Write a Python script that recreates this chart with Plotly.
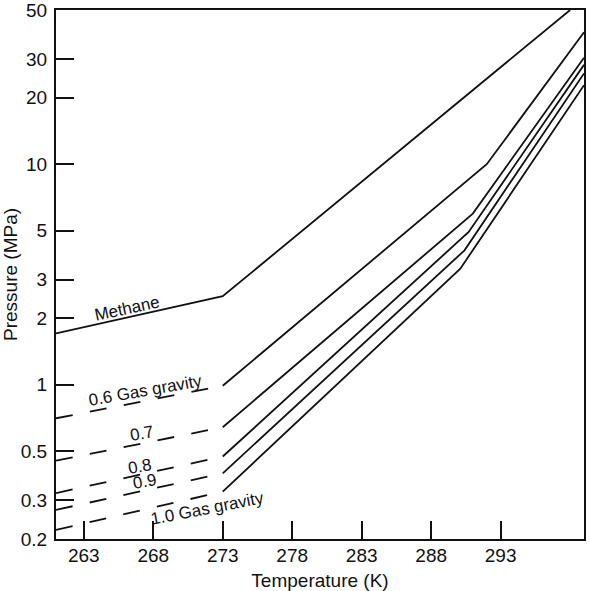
import math
import plotly.graph_objects as go

# ---- data ----
methane_T = [261.0, 273.0, 298.0]
methane_P = [1.71, 2.52, 50.0]

gravities = ["0.6", "0.7", "0.8", "0.9", "1.0"]
dashed_T = [261.0, 273.0]
dashed_P = {
    "0.6": [0.705, 0.99],
    "0.7": [0.453, 0.642],
    "0.8": [0.323, 0.473],
    "0.9": [0.271, 0.397],
    "1.0": [0.220, 0.328],
}
solid_T = {
    "0.6": [273.0, 292.0, 299.0],
    "0.7": [273.0, 291.0, 299.0],
    "0.8": [273.0, 290.7, 299.0],
    "0.9": [273.0, 290.4, 299.0],
    "1.0": [273.0, 290.1, 299.0],
}
solid_P = {
    "0.6": [0.99, 10.0, 39.6],
    "0.7": [0.642, 5.97, 30.4],
    "0.8": [0.473, 4.93, 28.2],
    "0.9": [0.397, 4.07, 25.8],
    "1.0": [0.328, 3.36, 22.8],
}

x_ticks = [263, 268, 273, 278, 283, 288, 293]
y_ticks = [0.2, 0.3, 0.5, 1, 2, 3, 5, 10, 20, 30, 50]
y_tick_text = ["0.2", "0.3", "0.5", "1", "2", "3", "5", "10", "20", "30", "50"]

labels = [
    ("Methane", 266.14, 2.22, -12),
    ("0.6 Gas gravity", 267.44, 0.942, -10),
    ("0.7", 267.22, 0.601, -10),
    ("0.8", 267.08, 0.426, -10),
    ("0.9", 267.37, 0.364, -10),
    ("1.0 Gas gravity", 271.9, 0.274, -11),
]

FONT = "Liberation Sans, Arial, Helvetica, sans-serif"
LC = "#111111"
LW = 1.8

fig = go.Figure()
fig.add_trace(go.Scatter(x=methane_T, y=methane_P, mode="lines",
                         line=dict(color=LC, width=LW), showlegend=False))
for g in gravities:
    fig.add_trace(go.Scatter(x=dashed_T, y=dashed_P[g], mode="lines",
                             line=dict(color=LC, width=LW, dash="17px,17.5px"),
                             showlegend=False))
    fig.add_trace(go.Scatter(x=solid_T[g], y=solid_P[g], mode="lines",
                             line=dict(color=LC, width=LW), showlegend=False))

for text, x, y, ang in labels:
    fig.add_annotation(x=x, y=math.log10(y), text=text, showarrow=False,
                       textangle=ang, xanchor="center", yanchor="middle",
                       font=dict(family=FONT, size=17, color=LC))

fig.update_layout(
    width=589, height=591,
    margin=dict(l=56, r=5, t=10, b=52),
    paper_bgcolor="white", plot_bgcolor="white",
    font=dict(family=FONT, size=19, color=LC),
    xaxis=dict(
        range=[261, 299], tickvals=x_ticks, ticks="inside", ticklen=18,
        tickwidth=2, tickcolor=LC, showgrid=False, zeroline=False,
        showline=True, linecolor=LC, linewidth=2, mirror=True,
        title=dict(text="Temperature (K)", font=dict(size=19), standoff=12),
        tickfont=dict(size=19), ticklabelstandoff=-2, automargin=False,
        ticklabeloverflow="allow",
    ),
    yaxis=dict(
        type="log", range=[math.log10(0.2), math.log10(50)], tickvals=y_ticks,
        ticktext=y_tick_text, ticks="inside", ticklen=18, tickwidth=2,
        tickcolor=LC, showgrid=False, zeroline=False,
        showline=True, linecolor=LC, linewidth=2, mirror=True,
        title=dict(text="Pressure (MPa)", font=dict(size=19), standoff=2),
        tickfont=dict(size=19), ticklabelstandoff=3, automargin=False,
        ticklabeloverflow="allow",
    ),
)

fig.write_html("out.html")
